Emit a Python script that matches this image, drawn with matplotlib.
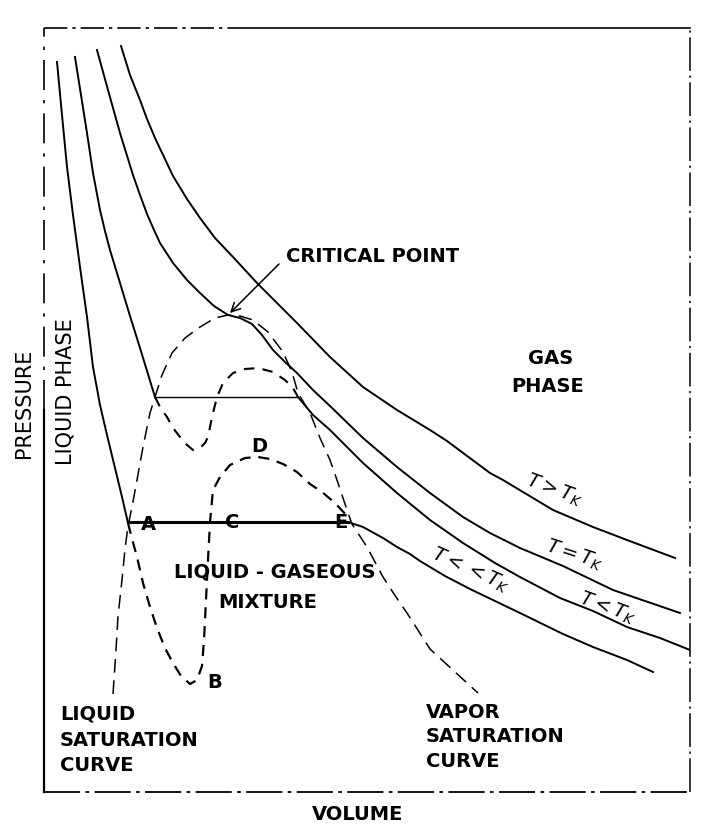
import matplotlib
matplotlib.use("Agg")
import matplotlib.pyplot as plt

# ---- data (volume V, pressure P in arbitrary units) ----
# isotherm T > T_K
v_hot = [77, 86, 96, 103, 111, 120, 129, 143, 156, 171, 189, 213, 253, 286, 319, 353, 386, 403, 446, 459, 509, 549, 583, 631]
p_hot = [746, 717, 692, 673, 654, 635, 616, 593, 574, 554, 535, 509, 469, 435, 405, 382, 362, 351, 319, 312, 282, 265, 252, 234]

# critical isotherm T = T_K
v_crit = [53, 64, 76, 89, 96, 103, 110, 116, 129, 143, 156, 170, 184, 196, 208, 218, 229, 241, 253, 269, 286, 319,
          353, 386, 419, 446, 476, 519, 569, 636]
p_crit = [742, 702, 659, 617, 597, 578, 562, 549, 529, 512, 499, 486, 477, 474, 468, 457, 442, 430, 419, 402, 386, 354,
          325, 299, 275, 259, 244, 226, 202, 179]

# isotherm T < T_K (liquid branch, plateau, vapour branch)
v_low_liq = [31, 37, 43, 49, 56, 61, 66, 76, 86, 96, 111]
p_low_liq = [735, 697, 659, 619, 582, 561, 542, 509, 476, 444, 395]
v_low_plateau = [111, 254]
p_low_plateau = [395, 395]
v_low_vap = [254, 269, 286, 319, 353, 386, 419, 451, 476, 516, 549, 583, 616, 646]
p_low_vap = [395, 377, 362, 329, 299, 272, 249, 229, 215, 194, 181, 165, 154, 142]

# isotherm T << T_K
v_vlow_liq = [13, 18, 23, 29, 36, 43, 49, 56, 63, 71, 78, 84]
p_vlow_liq = [730, 677, 625, 577, 525, 475, 425, 387, 357, 324, 295, 269]
v_vlow_plateau = [84, 304]
p_vlow_plateau = [270, 270]
v_vlow_vap = [304, 319, 339, 353, 366, 376, 401, 426, 451, 476, 519, 549, 583, 609]
p_vlow_vap = [270, 265, 254, 245, 238, 231, 216, 203, 191, 179, 158, 145, 132, 120]

# saturation dome (liquid + vapour saturation curves)
v_dome = [69, 72, 74, 78, 81, 84, 88, 93, 99, 106, 111, 118, 128, 141, 156, 171, 184,
          196, 209, 224, 239, 248, 254, 266, 276, 286, 294, 303, 308, 323, 339, 352, 363, 386, 411, 434]
p_dome = [98, 142, 176, 212, 243, 266, 285, 312, 345, 379, 395, 417, 439, 454, 465, 474, 477,
          476, 472, 460, 440, 420, 399, 379, 354, 332, 309, 282, 268, 245, 215, 195, 179, 143, 120, 99]

# van der Waals loop, T < T_K
v_loop1 = [111, 116, 123, 129, 136, 143, 149, 156, 161, 164, 168, 173, 179, 189, 201, 214, 229, 241, 249, 254]
p_loop1 = [395, 385, 375, 364, 355, 347, 342, 344, 349, 355, 375, 395, 409, 419, 423, 424, 420, 412, 404, 395]

# van der Waals loop, T << T_K (A-B-C-D-E)
v_loop2 = [84, 87, 93, 99, 106, 113, 121, 129, 137, 146, 153, 158, 160, 162, 164, 166, 169, 176, 186, 201,
           214, 226, 239, 253, 266, 278, 291, 304]
p_loop2 = [269, 257, 235, 209, 185, 164, 144, 129, 116, 108, 112, 126, 152, 192, 232, 270, 302, 315, 327, 334,
           335, 333, 328, 320, 308, 300, 289, 275]

critical_point = (184, 477)
point_labels = ["A", "B", "C", "D", "E"]
point_label_v = [104, 171, 188, 215, 297]
point_label_p = [268, 109, 269, 346, 269]

iso_labels = [r"$T>T_K$", r"$T=T_K$", r"$T<<T_K$", r"$T<T_K$"]
iso_label_v = [511, 531, 426, 564]
iso_label_p = [302, 237, 222, 184]
iso_label_rot = [-20, -18, -24, -20]

# ---- figure ----
fig = plt.figure(figsize=(7.26, 8.32), dpi=100)
ax = fig.add_axes([44 / 726, 40 / 832, 646 / 726, 764 / 832])
ax.set_xlim(0, 646)
ax.set_ylim(0, 764)
ax.axis("off")

K = "black"
iso_lw = 1.4

# frame (hand drawn, partly broken)
tr = ax.transAxes
ax.plot([0, 0.32], [1, 1], color=K, lw=1.2, transform=tr, clip_on=False, dashes=(14, 3, 2, 3))
ax.plot([0.32, 1], [1, 1], color=K, lw=1.2, transform=tr, clip_on=False)
ax.plot([1, 1], [0, 1], color=K, lw=1.1, transform=tr, clip_on=False, dashes=(22, 3, 1.5, 3))
ax.plot([0, 0], [0.5, 1], color=K, lw=1.2, transform=tr, clip_on=False, dashes=(18, 6, 2, 6))
ax.plot([0, 0], [0, 0.5], color=K, lw=1.6, transform=tr, clip_on=False)
ax.plot([0, 1], [0, 0], color=K, lw=1.3, transform=tr, clip_on=False, dashes=(20, 3, 2, 3))

# isotherms
ax.plot(v_hot, p_hot, color=K, lw=iso_lw)
ax.plot(v_crit, p_crit, color=K, lw=iso_lw)
ax.plot(v_low_liq, p_low_liq, color=K, lw=iso_lw)
ax.plot(v_low_plateau, p_low_plateau, color=K, lw=1.0)
ax.plot(v_low_vap, p_low_vap, color=K, lw=iso_lw)
ax.plot(v_vlow_liq, p_vlow_liq, color=K, lw=iso_lw)
ax.plot(v_vlow_plateau, p_vlow_plateau, color=K, lw=2.2)
ax.plot(v_vlow_vap, p_vlow_vap, color=K, lw=iso_lw)

# saturation dome and loops
ax.plot(v_dome, p_dome, color=K, lw=1.1, dashes=(9, 5))
ax.plot(v_loop1, p_loop1, color=K, lw=1.5, dashes=(5, 4))
ax.plot(v_loop2, p_loop2, color=K, lw=1.6, dashes=(5, 3.5))

# critical point arrow
ax.annotate("", xy=critical_point, xytext=(237, 530),
            arrowprops=dict(arrowstyle="->", color=K, lw=1.1, mutation_scale=16))

fs = 14
tk = dict(color=K, fontsize=fs, family="DejaVu Sans", fontweight="bold")
ax.text(242, 536, "CRITICAL POINT", ha="left", va="center", **tk)
ax.text(507, 434, "GAS", ha="center", va="center", **tk)
ax.text(504, 405, "PHASE", ha="center", va="center", **tk)
ax.text(231, 220, "LIQUID - GASEOUS", ha="center", va="center", **tk)
ax.text(224, 190, "MIXTURE", ha="center", va="center", **tk)
ax.text(16, 52, "LIQUID\nSATURATION\nCURVE", ha="left", va="center", linespacing=1.45, **tk)
ax.text(382, 55, "VAPOR\nSATURATION\nCURVE", ha="left", va="center", linespacing=1.35, **tk)
ax.text(314, -23, "VOLUME", ha="center", va="center", clip_on=False, **tk)
ax.text(-20, 389, "PRESSURE", ha="center", va="center", rotation=90, clip_on=False,
        color=K, fontsize=15, family="DejaVu Sans")
ax.text(21, 400, "LIQUID PHASE", ha="center", va="center", rotation=90,
        color=K, fontsize=15, family="DejaVu Sans")

for s, v, p in zip(point_labels, point_label_v, point_label_p):
    ax.text(v, p, s, ha="center", va="center", **tk)

for s, v, p, r in zip(iso_labels, iso_label_v, iso_label_p, iso_label_rot):
    ax.text(v, p, s, ha="center", va="center", rotation=r, color=K, fontsize=14)

fig.savefig("out.png", dpi=100)
